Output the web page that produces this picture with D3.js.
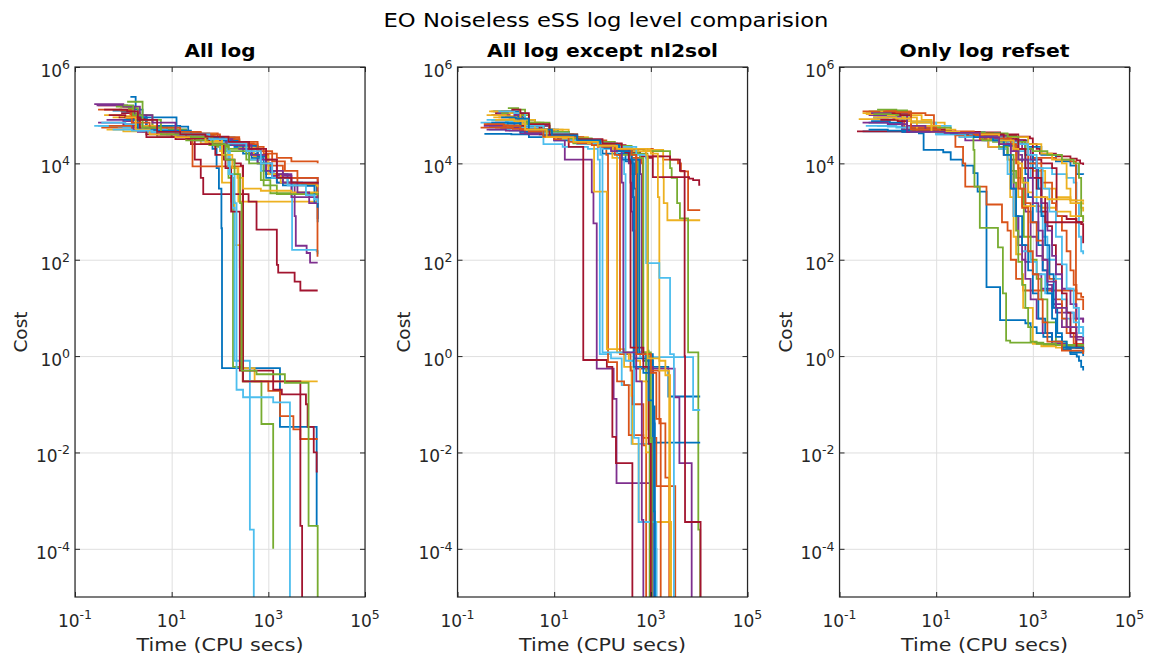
<!DOCTYPE html>
<html>
<head>
<meta charset="utf-8">
<script src="https://cdn.jsdelivr.net/npm/d3@7"></script>
<style>
  body { margin: 0; background: #fff; }
  svg { font-family: "DejaVu Sans", sans-serif; }
</style>
</head>
<body>
<div id="chart"></div>
<script>
const figureTitle = "EO Noiseless eSS log level comparision"
const panelTitles = ["All log", "All log except nl2sol", "Only log refset"]
const xLabel = "Time (CPU secs)"
const yLabel = "Cost"
const xTickValues = [1e-1, 1e1, 1e3, 1e5]
const yTickValues = [1e-4, 1e-2, 1e0, 1e2, 1e4, 1e6]
const colorOrder = ["#0072BD", "#D95319", "#EDB120", "#7E2F8E", "#77AC30", "#4DBEEE", "#A2142F"]

// each run: [time, best cost] pairs, drawn as stairs
const allLogRuns = [
  [[0.6,1.25e5],[1.1,1.2e5],[1.6,9e4],[3,5.5e4],[12,5e4],[20,4e4],[70,3.2e4],[150,2.4e4],[300,1.6e4],[600,1e4],[1100,6e3],[2500,4e3],[1.05e4,3.6e3]],
  [[0.35,5.5e4],[1.5,5e4],[4,4.5e4],[20,3.8e4],[80,3.2e4],[250,2.6e4],[500,2.2e4],[800,1.6e4],[1500,1.3e4],[3000,1.1e4],[1.05e4,1e4]],
  [[0.45,5e4],[1,4.6e4],[2.5,4.5e4],[10,3.5e4],[40,2.6e4],[100,1.8e4],[150,8e3],[240,1.6e3],[1.05e4,1.6e3]],
  [[0.3,7e4],[1,6.5e4],[2,4.5e4],[8,4e4],[30,3e4],[120,2.5e4],[400,1.5e4],[900,6e3],[1500,4e3],[3500,800],[3700,195],[6200,138],[7300,87],[1.05e4,87]],
  [[0.8,1.3e5],[1.5,1.1e5],[2.2,6e4],[5,3.5e4],[25,3.4e4],[60,2.8e4],[150,2e4],[350,1.2e4],[700,4.5e3],[1100,2.4e3],[1.05e4,2.3e3]],
  [[0.25,6e4],[0.8,5.8e4],[2,4.8e4],[10,4.2e4],[60,3.5e4],[200,2.2e4],[400,1.2e4],[700,7e3],[1300,5e3],[3000,4e3],[3100,160],[1e4,150],[1.05e4,130]],
  [[0.9,1.1e5],[1.5,6e4],[3,3.5e4],[12,3.2e4],[25,2.5e4],[30,1.2e4],[40,5e3],[45,2.3e3],[390,1.6e3],[570,420],[1500,78],[1600,54],[3500,35],[4600,23],[1.05e4,23]],
  [[1.4,2.4e5],[1.8,1.3e5],[2.5,9e4],[12.6,4.3e4],[40,3.4e4],[70,2e4],[85,8e3],[95,3e3],[107,450],[110,0.56],[1740,0.034],[1e4,3e-4],[1.05e4,3e-4]],
  [[0.3,1.6e5],[0.9,1.5e5],[1.4,8e4],[4,5e4],[15,4.5e4],[27,8.7e3],[295,0.3],[1000,0.19],[1750,0.057],[3300,0.03],[4600,0.019],[1.05e4,0.019]],
  [[0.6,9e4],[1.2,8.5e4],[2,5e4],[6,4.5e4],[20,3.5e4],[60,2.8e4],[110,4e3],[170,1.6e3],[200,200],[257,70],[265,0.56],[520,0.3],[1.05e4,0.3]],
  [[0.28,1.6e5],[1.2,1.5e5],[2.2,1e5],[3,6e4],[8,4.5e4],[30,3.5e4],[100,2.6e4],[250,2e4],[600,1e4],[1200,5.5e3],[3000,5e3],[1e4,5e3],[1.05e4,700]],
  [[1.2,1.9e5],[2.5,1e5],[4,6e4],[10,4.5e4],[30,3.2e4],[80,2.2e4],[150,5e3],[186,0.6],[300,0.3],[720,0.039],[1260,1e-4]],
  [[0.3,6e4],[1,5.5e4],[3,4.5e4],[10,4e4],[40,3e4],[100,2e4],[150,6e3],[180,1.2e3],[200,0.8],[415,2.5e-4],[500,1e-6]],
  [[0.8,9e4],[1.5,8.5e4],[3,4e4],[10,3.5e4],[30,2.5e4],[80,1.5e4],[130,8e3],[170,1e3],[257,0.5],[1260,0.2],[1900,0.16],[6000,0.1],[6500,0.034],[8700,0.01],[1e4,0.004],[1.05e4,0.004]],
  [[0.9,1.2e5],[1.6,9e4],[3,6e4],[15,5.8e4],[22,4e4],[80,3.2e4],[200,2.2e4],[450,1.3e4],[800,7e3],[1500,4e3],[5000,3.6e3],[1e4,2.6e3],[1.05e4,600]],
  [[0.5,6e4],[1.5,5.5e4],[4,4.8e4],[20,4.2e4],[90,3.5e4],[250,2.5e4],[600,1.5e4],[1000,9e3],[2000,5e3],[4000,3.8e3],[1e4,3.5e3],[1.04e4,115]],
  [[0.4,1e5],[0.9,9.5e4],[1.8,6e4],[5,5e4],[20,4e4],[80,3e4],[250,2.2e4],[500,1.4e4],[1000,6e3],[1800,4e3],[3500,3.5e3],[1.05e4,3.2e3]],
  [[0.45,8e4],[1,7.5e4],[1.6,5e4],[5,4e4],[20,3.5e4],[100,2.8e4],[300,2e4],[700,1.2e4],[1500,6e3],[3000,2e3],[1.05e4,2e3]],
  [[0.7,1.5e5],[1.3,1.4e5],[2,8e4],[6,5e4],[20,3e4],[60,2.4e4],[150,1.8e4],[400,1e4],[800,3.5e3],[1500,2.3e3],[1.05e4,2.2e3]],
  [[0.35,7e4],[1.1,6.5e4],[2.5,5e4],[8,4.5e4],[25,3.5e4],[70,2.8e4],[120,1.8e4],[160,6e3],[200,1.5e3],[220,0.2],[300,0.14],[1260,0.11],[2800,1e-6]],
  [[0.5,1e5],[1.1,9e4],[2.2,5e4],[5,4e4],[20,3.3e4],[60,2.5e4],[120,1.2e4],[200,1e4],[270,9e3],[300,0.3],[4600,3e-4],[5000,1e-6]],
  [[1,8e4],[2,5e4],[5,4.8e4],[25,3.5e4],[120,3e4],[250,2.3e4],[600,1.4e4],[900,5e3],[2000,3.5e3],[6000,3.4e3],[9000,1.5e3],[1.05e4,1.2e3]],
  [[0.3,1.3e5],[0.9,1.25e5],[1.5,7e4],[3.5,5.5e4],[15,4.5e4],[40,4e4],[100,3.2e4],[250,2.8e4],[600,1.8e4],[1200,1.1e4],[2200,7e3],[4000,5e3],[1.05e4,4e3]],
  [[1.1,9e4],[1.8,5e4],[3.5,4e4],[12,3.5e4],[50,2.8e4],[110,1.5e4],[180,8e3],[230,5e3],[300,3e3],[700,2.7e3],[3000,2.5e3],[1.05e4,2.4e3]],
  [[0.25,1.7e5],[1,1.5e5],[1.7,1e5],[4,7e4],[12,4e4],[60,3.2e4],[180,2.4e4],[450,1.5e4],[900,7e3],[2000,4e3],[4000,2.5e3],[7000,1.5e3],[1.05e4,1.5e3]],
  [[1,1.6e5],[1.6,1e5],[2.5,5.5e4],[6,4e4],[25,3.5e4],[70,2.5e4],[130,1.2e4],[200,6e3],[260,1.5e3],[280,0.5],[570,0.42],[2200,0.28],[6800,3e-4],[1.05e4,1e-6]],
  [[0.6,5e4],[1.5,4.8e4],[4,4.5e4],[15,4e4],[60,3.2e4],[150,2.6e4],[350,1.8e4],[700,1e4],[1200,5e3],[2500,3.5e3],[6000,2.2e3],[9000,1.8e3],[1.05e4,1.5e3]],
  [[0.4,1.3e5],[1.2,1.2e5],[2,8e4],[5,4.5e4],[15,4e4],[50,3.6e4],[150,2.8e4],[400,2e4],[900,1.2e4],[1500,5e3],[3000,4e3],[1.05e4,3.8e3]]
]

const exceptNl2solRuns = [
  [[0.36,4.1e4],[1.3,4e4],[3,3.5e4],[10,3e4],[40,2.5e4],[100,1.6e4],[300,1.1e4],[420,2e3],[450,0.9],[800,0.6],[2300,0.145],[1.05e4,0.145]],
  [[0.4,6.5e4],[1.1,6.2e4],[2.5,4.5e4],[8,3.5e4],[25,2.8e4],[80,2.2e4],[300,2e4],[1100,1.4e4],[1800,1.2e4],[3650,1e4],[4200,6.8e3],[5900,1.07e3],[1.05e4,1.07e3]],
  [[0.5,1.2e5],[1.4,1.15e5],[2,7e4],[5,5e4],[20,3e4],[60,2.5e4],[130,2.2e4],[400,2e4],[950,1.9e4],[1800,5e3],[1850,1.5e3],[2200,660],[1.05e4,660]],
  [[0.6,7e4],[1.5,6e4],[3,4e4],[10,3e4],[16.6,1.2e4],[60,2.5e3],[65,570],[76,0.55],[170,0.13],[195,2.3e-3],[1000,1e-6]],
  [[0.45,6e4],[1.2,5.8e4],[2.5,4.8e4],[10,3.5e4],[35,2.6e4],[150,2e4],[700,1.8e4],[2500,8e3],[2700,5e3],[3500,1.5e3],[4000,720],[5900,1.2],[9600,2.5e-4],[1.05e4,1e-6]],
  [[0.3,7e4],[1,6.8e4],[2.5,5e4],[6,2.5e4],[15,2.2e4],[50,2e4],[80,1.2e4],[88,1.1],[150,0.9],[250,0.25],[400,0.015],[1000,1e-6]],
  [[0.5,1e5],[1.2,9e4],[2.5,5e4],[8,3.5e4],[20,2.2e4],[40,0.83],[123,0.6],[160,0.021],[190,0.006],[415,1e-6]],
  [[0.55,1.2e5],[1.5,1.1e5],[2.2,6e4],[6,4.5e4],[20,3.2e4],[60,2.8e4],[150,2e4],[280,1.6e4],[400,1e4],[450,3e3],[500,1.1],[700,0.8],[1100,0.04],[1200,1e-4],[1300,1e-6]],
  [[0.3,5.5e4],[0.8,5.3e4],[2,4.8e4],[7,3.8e4],[25,2.7e4],[80,2.3e4],[120,1.5e4],[130,0.75],[200,0.3],[280,0.25],[350,0.023],[700,0.014],[800,1e-6]],
  [[0.4,1e5],[1,9.5e4],[1.8,6.5e4],[4,4.5e4],[15,3.5e4],[50,2.8e4],[67,2.6e3],[123,1.4],[280,0.6],[400,0.15],[420,0.015],[560,3.6e-4],[2600,1e-6]],
  [[0.35,6e4],[1,5.5e4],[2,4.2e4],[7,3.5e4],[30,2.8e4],[100,2.2e4],[200,1.8e4],[350,1e4],[380,4e3],[400,1e3],[420,400],[460,0.55],[3100,0.14],[3900,6e-3],[7000,1e-6]],
  [[0.5,8e4],[1.3,7.5e4],[2.8,6e4],[8,4e4],[25,2.6e4],[70,2.4e4],[200,1.5e4],[500,1.2e4],[540,1.2],[800,0.3],[900,0.03],[950,1e-6]],
  [[0.45,5e4],[1.2,4.8e4],[3,4.5e4],[10,3.5e4],[30,2.5e4],[100,2e4],[200,1.3e4],[280,6e3],[300,1.2],[600,0.95],[7500,0.076],[1.05e4,0.076]],
  [[0.6,1.1e5],[1.6,1e5],[2.5,5.5e4],[6,4e4],[20,3e4],[50,2.6e4],[130,2.2e4],[300,1.7e4],[600,1.4e4],[800,1.3e4],[1100,5.2e3],[6200,4.8e3],[7500,4.5e3],[1e4,3.6e3],[1.05e4,3.6e3]],
  [[0.9,1.2e5],[1.8,8e4],[4,5e4],[12,3.2e4],[40,2.7e4],[110,2.1e4],[250,1.2e4],[480,6e3],[520,1.1],[1100,0.016],[1.05e4,0.016]],
  [[0.7,9e4],[1.5,8.5e4],[3,5e4],[10,3.2e4],[30,2.6e4],[100,2.2e4],[180,1.5e4],[230,1.1],[380,0.5],[420,0.1],[700,0.02],[1300,2e-3],[3200,1e-6]],
  [[0.55,9e4],[1.2,8.5e4],[2.2,5e4],[6,3.5e4],[25,2.8e4],[80,2.3e4],[160,1.3e4],[200,1.2],[350,0.8],[600,0.3],[800,0.01],[1000,1e-6]],
  [[0.65,1.1e5],[1.5,1e5],[2.5,6e4],[8,3.6e4],[30,2.8e4],[90,2.3e4],[200,1.8e4],[500,1.2e4],[600,6e3],[650,1.1],[900,0.6],[1100,1e-6]],
  [[0.8,1.1e5],[2,1e5],[3,7e4],[8,4e4],[30,3e4],[100,2.5e4],[250,2e4],[550,1.6e4],[850,1.4e4],[870,1.3],[900,0.5],[950,1e-6]],
  [[0.4,8e4],[1,7.5e4],[2,5.5e4],[5,4e4],[15,3.2e4],[60,2.5e4],[90,1.5e4],[100,1.2],[300,0.8],[450,0.02],[560,3.6e-4],[1300,1e-6]],
  [[0.8,1.2e5],[1.4,1.1e5],[2,6e4],[5,4e4],[15,3.3e4],[40,2.8e4],[120,2.4e4],[300,2e4],[800,1.4e4],[2500,1.2e4],[4000,7e3],[5000,1],[5100,3.6e-4],[1.07e4,1e-6]],
  [[0.5,7e4],[1.1,6.8e4],[2,4.5e4],[6,3.8e4],[20,3e4],[70,2.5e4],[200,1.8e4],[350,1.2e4],[420,6e3],[440,0.6],[700,0.45],[1100,6e-4],[1200,1e-6]],
  [[0.6,5.5e4],[1.4,5.2e4],[3,4.5e4],[10,3.5e4],[40,3e4],[120,2.4e4],[250,1.8e4],[400,1.3e4],[650,1e4],[680,1.1],[1000,0.5],[1500,0.04],[2000,3e-3],[2400,1e-6]],
  [[0.45,1.2e5],[1.2,1.1e5],[2,8e4],[4,5e4],[15,3.3e4],[50,2.6e4],[150,2.1e4],[400,1.8e4],[1000,1.6e4],[1400,2e3],[1500,0.8],[2000,0.4],[2500,1e-6]],
  [[0.4,5e4],[1,4.8e4],[2.5,4.2e4],[8,3.6e4],[25,2.9e4],[80,2.4e4],[150,1.8e4],[250,4e3],[270,1.2],[500,0.3],[650,4e-4],[700,1e-6]],
  [[1.1,1.4e5],[1.8,1.3e5],[2.5,7e4],[6,4.5e4],[20,3.3e4],[60,2.8e4],[180,2.3e4],[400,1.6e4],[600,1.3e4],[700,1.2],[1000,0.02],[1050,1e-6]],
  [[0.7,1.2e5],[1.5,1.1e5],[2.5,6e4],[6,4.2e4],[20,3e4],[60,2.6e4],[200,2.2e4],[500,1.5e4],[800,85],[1500,42],[2500,1.1],[3000,1e-6]],
  [[1.3,1.3e5],[2,1.1e5],[3,6.5e4],[8,4e4],[30,3.2e4],[100,2.6e4],[250,2e4],[350,1.2e4],[380,1.5],[700,0.6],[900,0.015],[1000,1e-6]],
  [[0.8,9e4],[1.6,8.5e4],[3,5e4],[9,3.8e4],[30,3e4],[90,2.4e4],[220,1.8e4],[400,1.2e4],[580,1.1],[800,0.9],[900,0.12],[1100,0.09],[1200,1e-6]],
  [[0.35,6.5e4],[0.9,6e4],[2,5e4],[6,3.6e4],[20,2.8e4],[60,2.4e4],[180,2e4],[400,1.5e4],[500,1.1],[1000,0.45],[1300,0.05],[1600,1e-6]],
  [[0.6,8e4],[1.5,7.5e4],[2.5,5e4],[7,3.5e4],[25,2.8e4],[80,2.3e4],[200,2e4],[800,1.5e4],[850,0.9],[1500,0.5],[2400,3.6e-4],[2600,1e-6]]
]

const refsetRuns = [
  [[0.3,4.6e4],[4.4,4.2e4],[5.5,1.9e4],[14,1.7e4],[20,1.2e4],[35,9e3],[59,6.3e3],[72,2.6e3],[110,27],[210,5.6],[700,4.8],[900,4],[1200,3],[1650,2.5],[2500,1.8],[4200,1.35],[6000,1.1],[8100,0.98],[9000,0.8],[1e4,0.6],[1.1e4,0.5]],
  [[0.5,1.1e5],[1.5,1.05e5],[2.5,5e4],[8,4.5e4],[25,2.2e4],[36,1e4],[40,3.3e3],[110,1.4e3],[230,600],[300,400],[350,100],[450,40],[630,23],[8000,20],[1e4,17],[1.1e4,16]],
  [[0.25,8.3e4],[1,8e4],[2,7.5e4],[8,7e4],[15,4.5e4],[40,4e4],[90,3.5e4],[200,2e4],[300,1.2e4],[600,8e3],[1000,7e3],[1800,3e3],[3000,2e3],[6000,1.7e3],[8000,1.5e3],[1e4,1.2e3],[1.1e4,1e3]],
  [[0.35,1.1e5],[1.2,1e5],[2,4.5e4],[10,4.3e4],[40,3e4],[120,2.2e4],[250,1.5e4],[350,3e3],[400,800],[500,200],[700,90],[1000,50],[1500,25],[2500,12],[4000,8],[7000,6],[1.1e4,5]],
  [[0.4,1.2e5],[1.5,1.15e5],[3,5e4],[20,4.4e4],[59,1.9e4],[62,3.3e3],[80,460],[190,180],[240,20],[280,2.1],[340,1.9],[1650,1.7],[4200,1.55],[1.1e4,1.35]],
  [[0.6,1e5],[1.5,9.5e4],[3,7e4],[10,6e4],[20,4.5e4],[50,4e4],[150,3e4],[400,1.8e4],[700,1.2e4],[1200,8e3],[2500,6e3],[5000,5e3],[7000,4e3],[8000,1.5e3],[9000,300],[1e4,150],[1.1e4,130]],
  [[0.23,4.6e4],[3,4.5e4],[20,4.4e4],[210,4e4],[500,3.6e4],[870,3.3e4],[1000,2.5e4],[1200,2e4],[1400,1.6e4],[3000,1.4e4],[6000,1.25e4],[8100,1.15e4],[9500,1e4],[1.1e4,9.3e3]],
  [[0.4,7e4],[1,6.5e4],[2,4.5e4],[10,4.4e4],[100,4.3e4],[200,3.5e4],[500,3e4],[800,2.2e4],[1500,1.5e4],[3000,1.1e4],[6000,9e3],[8000,6e3],[1.1e4,5.8e3]],
  [[0.3,1.2e5],[3,1.1e5],[6,1e5],[9,5e4],[20,4.5e4],[80,3.8e4],[200,3e4],[400,2e4],[700,1.5e4],[1000,1.3e4],[3000,1.2e4],[6000,1.1e4],[7800,1.5],[1.1e4,1.2]],
  [[0.7,1.2e5],[1.5,1.1e5],[3,6e4],[12,4.5e4],[50,3.5e4],[120,2.2e4],[200,2e4],[300,1.2e4],[340,2e3],[400,300],[450,130],[600,50],[630,10],[1000,1.8],[1500,1.6],[3000,1.5],[1.1e4,1.3]],
  [[0.5,9e4],[1.5,8.5e4],[3,5e4],[15,4.4e4],[60,3.5e4],[150,3e4],[300,2.5e4],[500,1.5e4],[600,5e3],[700,1e3],[900,300],[1200,120],[1600,60],[2000,30],[2500,15],[3000,8],[4000,4],[6000,2.5],[1.1e4,2]],
  [[0.6,1.3e5],[1.5,1.25e5],[2.5,5.5e4],[20,4.5e4],[80,3.5e4],[150,2.8e4],[300,1.5e4],[350,7e3],[450,5e3],[630,4e3],[650,300],[900,100],[1200,40],[1500,15],[2000,5],[3000,2],[5000,1.5],[1.1e4,1.2]],
  [[0.35,6e4],[1,5.8e4],[2.5,4.5e4],[10,4e4],[30,3.5e4],[100,3e4],[200,2e4],[300,6e3],[400,800],[500,300],[600,150],[900,90],[1200,50],[1800,20],[2500,10],[4000,6],[6000,4],[1.1e4,3.2]],
  [[0.8,1.1e5],[1.5,1e5],[2.5,4.6e4],[10,4.5e4],[40,4.3e4],[150,3.5e4],[400,3e4],[700,2.5e4],[1000,1.2e4],[1500,1e4],[2500,8e3],[3100,800],[5000,700],[8000,600],[1e4,550],[1.1e4,220]],
  [[0.45,7.5e4],[1.1,7e4],[2,5e4],[8,4.5e4],[30,4e4],[100,3.4e4],[250,2.3e4],[500,1.2e4],[700,6e3],[800,2e3],[1000,600],[1300,200],[1600,60],[2000,20],[2500,6],[3000,2.5],[4000,1.5],[6000,1.2],[1.1e4,1.1]],
  [[0.6,9e4],[1.3,8.5e4],[2.2,5e4],[8,4.5e4],[25,3.8e4],[80,3.2e4],[200,2.5e4],[400,1.8e4],[500,8e3],[550,3e3],[700,1.5e3],[900,600],[1200,250],[1600,100],[2200,40],[3000,15],[4000,6],[5000,3],[7000,1.8],[1.1e4,1.2]],
  [[0.3,1.1e5],[2.5,1e5],[5,8e4],[8,5e4],[25,4.5e4],[60,3.5e4],[120,3e4],[300,2.5e4],[450,1.5e4],[500,2e3],[600,1.3e3],[1500,1.2e3],[3000,1e3],[6000,800],[1.1e4,700]],
  [[0.4,1e5],[1,9.5e4],[2,5e4],[10,4.5e4],[50,4e4],[150,3.2e4],[300,2.5e4],[350,1.2e4],[400,3e3],[450,800],[500,300],[600,100],[700,40],[900,15],[1200,6],[1600,3],[2500,1.8],[5000,1.5],[1.1e4,1.4]],
  [[1,1.2e5],[2,1.15e5],[3,5e4],[12,4.4e4],[40,3.5e4],[90,3e4],[200,2.2e4],[300,1.5e4],[400,4e3],[450,400],[500,90],[600,30],[700,10],[800,4],[900,2],[1200,1.8],[3000,1.7],[1.1e4,1.6]],
  [[0.5,9e4],[1.5,8.5e4],[3,4.5e4],[10,4.3e4],[50,4e4],[150,3.5e4],[300,2.8e4],[500,2e4],[700,1.2e4],[900,5e3],[1200,1e3],[1600,300],[2000,100],[3000,40],[4000,15],[5000,8],[7000,5],[9000,3],[1.1e4,2.5]],
  [[0.7,8e4],[1.6,7.5e4],[2.5,4.5e4],[15,4.4e4],[80,4.2e4],[200,3.8e4],[450,3e4],[700,2e4],[1000,1e4],[1200,3e3],[1500,1e3],[2000,500],[2500,200],[3000,80],[4000,20],[5000,8],[6000,3],[8000,1.5],[1.1e4,1.2]],
  [[0.9,1.1e5],[1.6,1e5],[2.5,4.8e4],[15,4.4e4],[60,4e4],[200,3.2e4],[400,2.5e4],[700,1.5e4],[1000,8e3],[1300,3e3],[1500,800],[1800,200],[2200,50],[2700,10],[3200,3],[4000,1.5],[6000,1.2],[1.1e4,1]],
  [[0.8,1.2e5],[1.4,1.1e5],[3,5.5e4],[10,4.5e4],[60,3.8e4],[200,3e4],[500,2e4],[800,1e4],[1500,4e3],[2500,1.5e3],[3000,800],[4000,400],[5000,150],[6000,60],[7000,30],[8000,15],[1.1e4,9]],
  [[0.35,1.05e5],[1,1e5],[2,9e4],[4,4.5e4],[20,4.3e4],[100,4e4],[300,3.5e4],[800,2.5e4],[1500,1.6e4],[2500,1.2e4],[4000,1e4],[5000,3e3],[6000,1.5e3],[1.1e4,1.4e3]],
  [[0.45,1.1e5],[1.2,1.05e5],[2.5,6e4],[6,4.5e4],[30,4.2e4],[100,3.8e4],[300,3e4],[600,2e4],[900,1.2e4],[1200,5e3],[1500,1.5e3],[2000,400],[2500,120],[3000,50],[4000,25],[6000,12],[8000,6],[1.1e4,5]],
  [[0.5,1.05e5],[1.5,1e5],[3,4.6e4],[20,4.4e4],[100,4.2e4],[300,3.6e4],[500,2.8e4],[700,2e4],[1000,1.8e4],[2000,1.5e4],[4000,1.2e4],[7000,1e4],[9000,5e3],[1e4,800],[1.1e4,600]],
  [[0.6,6e4],[1.5,5.5e4],[3,4.5e4],[10,4e4],[40,3.5e4],[150,3e4],[400,2.5e4],[800,1.5e4],[1200,8e3],[1600,3e3],[2200,1e3],[3000,300],[4000,80],[5000,25],[7000,10],[9000,4],[1.1e4,3]],
  [[1.2,1.1e5],[1.8,1e5],[3,5e4],[15,4.5e4],[80,4e4],[250,3.2e4],[500,2e4],[700,8e3],[1000,5e3],[1500,2e3],[1800,600],[1.1e4,600]],
  [[0.4,5e4],[1,4.8e4],[3,4.5e4],[20,4.2e4],[60,3.5e4],[150,3e4],[250,1.5e4],[350,3e3],[450,800],[600,200],[800,60],[1000,20],[1300,6],[1800,3],[2500,2],[5000,1.5],[1.1e4,1.3]],
  [[0.9,1.2e5],[1.5,1.15e5],[3,5e4],[12,4.6e4],[60,4e4],[200,3.3e4],[350,2.5e4],[450,1e4],[500,3e3],[600,1.2e3],[800,150],[1000,50],[1300,15],[1600,5],[2000,2],[4000,1.3],[1.1e4,1.1]],
  [[0.5,9e4],[1.5,8.5e4],[3,7e4],[8,4.5e4],[30,4.3e4],[80,4e4],[200,3e4],[400,2e4],[500,1e4],[600,4e3],[800,2.5e3],[1000,2e3],[2000,1.8e3],[6000,1.7e3],[1.1e4,1.6e3]],
  [[0.3,7e4],[1,6.5e4],[2.5,4.5e4],[15,4.3e4],[80,3.5e4],[200,2.5e4],[350,1.8e4],[500,1.2e4],[800,5e3],[1000,1.5e3],[1300,400],[1600,100],[2000,35],[3000,10],[5000,4],[8000,2.2],[1.1e4,1.8]]
]

const panels = [allLogRuns, exceptNl2solRuns, refsetRuns]

const drawFigure = () => {
  const width = 1155
  const height = 663
  const panelLeft = [75, 457.5, 839.5]
  const plotTop = 67
  const plotWidth = 290
  const plotHeight = 530
  const plotBottom = plotTop + plotHeight
  const axisColor = "#262626"
  // measured text widths, the original font runs wider than DejaVu
  const subtitleWidths = [71, 231, 170]

  const svg = d3.select("#chart")
    .append("svg")
      .attr("width", width)
      .attr("height", height)

  svg.append("text")
    .attr("x", 606)
    .attr("y", 27)
    .attr("text-anchor", "middle")
    .attr("font-size", 19)
    .attr("textLength", 445)
    .attr("lengthAdjust", "spacingAndGlyphs")
    .attr("fill", "#000")
    .text(figureTitle)

  const powerLabel = (text, value) => {
    const exponent = Math.round(Math.log10(value))
    text.append("tspan").text("10")
    text.append("tspan")
      .attr("dy", -8)
      .attr("font-size", 12.5)
      .text(exponent)
  }

  panels.forEach((runs, i) => {
    const left = panelLeft[i]
    const right = left + plotWidth
    const centerX = left + plotWidth / 2

    const xScale = d3.scaleLog()
      .domain([1e-1, 1e5])
      .range([left, right])
    const yScale = d3.scaleLog()
      .domain([1e-5, 1e6])
      .range([plotBottom, plotTop])

    const bounds = svg.append("g")

    svg.append("clipPath")
      .attr("id", `clip-${i}`)
      .append("rect")
        .attr("x", left)
        .attr("y", plotTop)
        .attr("width", plotWidth)
        .attr("height", plotHeight)

    // grid
    bounds.append("g")
      .attr("transform", `translate(0,${plotBottom})`)
      .call(d3.axisBottom(xScale).tickValues(xTickValues).tickSize(-plotHeight).tickFormat(""))
      .call(g => g.select(".domain").remove())
      .selectAll("line")
        .attr("stroke", "#dfdfdf")
    bounds.append("g")
      .attr("transform", `translate(${left},0)`)
      .call(d3.axisLeft(yScale).tickValues(yTickValues).tickSize(-plotWidth).tickFormat(""))
      .call(g => g.select(".domain").remove())
      .selectAll("line")
        .attr("stroke", "#dfdfdf")

    const stairs = d3.line()
      .x(d => xScale(d[0]))
      .y(d => yScale(d[1]))
      .curve(d3.curveStepAfter)

    bounds.append("g")
      .attr("clip-path", `url(#clip-${i})`)
      .selectAll("path")
      .data(runs)
      .join("path")
        .attr("fill", "none")
        .attr("stroke", (d, j) => colorOrder[j % colorOrder.length])
        .attr("stroke-width", 1.8)
        .attr("d", stairs)

    // inward ticks on all four sides
    const tickAxes = [
      [d3.axisBottom(xScale).tickValues(xTickValues), `translate(0,${plotBottom})`],
      [d3.axisTop(xScale).tickValues(xTickValues), `translate(0,${plotTop})`],
      [d3.axisLeft(yScale).tickValues(yTickValues), `translate(${left},0)`],
      [d3.axisRight(yScale).tickValues(yTickValues), `translate(${right},0)`],
    ]
    tickAxes.forEach(([axis, transform]) => {
      bounds.append("g")
        .attr("transform", transform)
        .call(axis.tickSize(-5).tickFormat(""))
        .call(g => g.select(".domain").remove())
        .selectAll("line")
          .attr("stroke", axisColor)
    })

    bounds.append("rect")
      .attr("x", left)
      .attr("y", plotTop)
      .attr("width", plotWidth)
      .attr("height", plotHeight)
      .attr("fill", "none")
      .attr("stroke", axisColor)
      .attr("stroke-width", 1.2)

    xTickValues.forEach(v => {
      bounds.append("text")
        .attr("x", xScale(v))
        .attr("y", plotBottom + 30)
        .attr("text-anchor", "middle")
        .attr("font-size", 17)
        .attr("fill", axisColor)
        .call(powerLabel, v)
    })
    yTickValues.forEach(v => {
      bounds.append("text")
        .attr("x", left - 5)
        .attr("y", yScale(v) + 10)
        .attr("text-anchor", "end")
        .attr("font-size", 17)
        .attr("fill", axisColor)
        .call(powerLabel, v)
    })

    bounds.append("text")
      .attr("x", centerX)
      .attr("y", 651)
      .attr("text-anchor", "middle")
      .attr("font-size", 18.5)
      .attr("textLength", 167)
      .attr("lengthAdjust", "spacingAndGlyphs")
      .attr("fill", axisColor)
      .text(xLabel)

    bounds.append("text")
      .attr("transform", `translate(${left - 48},${plotTop + plotHeight / 2}) rotate(-90)`)
      .attr("text-anchor", "middle")
      .attr("font-size", 18.5)
      .attr("fill", axisColor)
      .text(yLabel)

    bounds.append("text")
      .attr("x", centerX)
      .attr("y", 57)
      .attr("text-anchor", "middle")
      .attr("font-size", 17.5)
      .attr("font-weight", "bold")
      .attr("textLength", subtitleWidths[i])
      .attr("lengthAdjust", "spacingAndGlyphs")
      .attr("fill", "#000")
      .text(panelTitles[i])
  })
}

drawFigure()
</script>
</body>
</html>
